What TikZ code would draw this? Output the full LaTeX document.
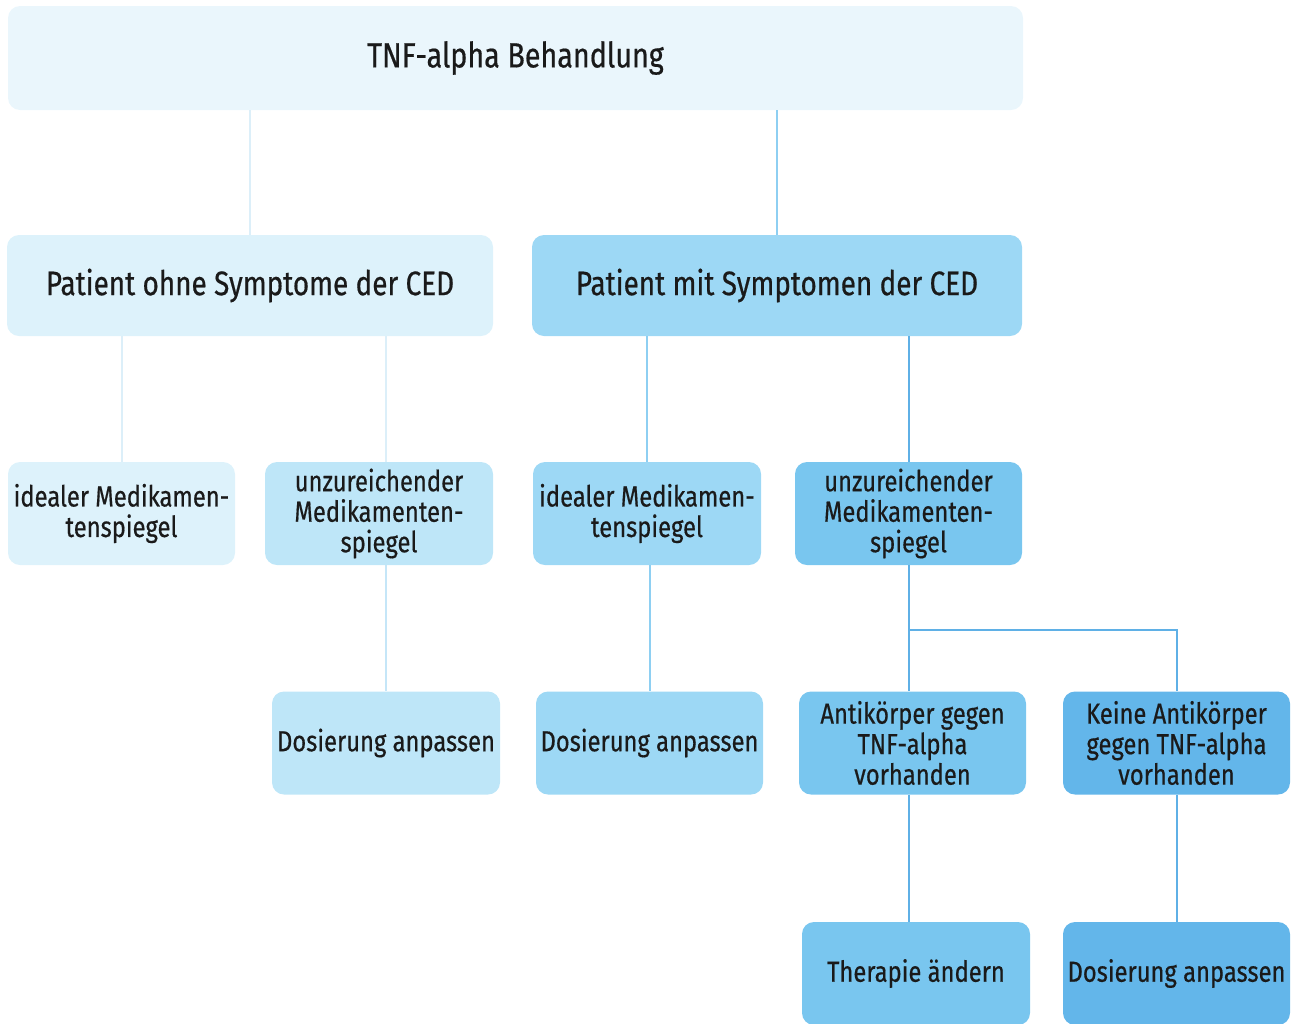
\documentclass[tikz,border=0pt]{standalone}
\usepackage{fontspec}
\setmainfont[FakeStretch=0.82,FakeBold=0.5]{Fira Sans}
\definecolor{c0}{HTML}{EAF6FC}
\definecolor{c1}{HTML}{DDF2FB}
\definecolor{c2}{HTML}{BEE6F8}
\definecolor{c3}{HTML}{9DD8F5}
\definecolor{c4}{HTML}{79C6EF}
\definecolor{c5}{HTML}{63B6EA}
\definecolor{l1}{HTML}{DCEFF9}
\definecolor{l2}{HTML}{8ECFF2}
\definecolor{l3}{HTML}{C5E6F8}
\definecolor{l4}{HTML}{5FB0E6}
\definecolor{txt}{HTML}{1A1A1A}
\begin{document}
\begin{tikzpicture}[x=1pt,y=-1pt,
  box/.style={rounded corners=12pt,draw=none,inner sep=0pt,align=center,text=txt,
    minimum width=228pt,minimum height=103pt,font=\fontsize{29}{30.5}\selectfont},
  head/.style={box,font=\fontsize{34}{36}\selectfont},
  ln/.style={line width=2pt}]
\useasboundingbox (0,0) rectangle (1297,1023);
\clip (0,0) rectangle (1297,1023);
% boxes
\node[head,fill=c0,minimum width=1015pt,minimum height=104pt] (top) at (515.5,58) {\raisebox{5pt}{\fontsize{35}{36}\selectfont TNF-alpha Behandlung}};
\node[head,fill=c1,minimum width=486pt,minimum height=101pt] (ohne) at (250,285.5) {Patient ohne Symptome der CED};
\node[head,fill=c3,minimum width=490pt,minimum height=101pt] (mit) at (777,285.5) {Patient mit Symptomen der CED};
\node[box,fill=c1,minimum width=227pt] (ideal1) at (121.5,513.5) {idealer Medikamen-\\tenspiegel};
\node[box,fill=c2] (unz1) at (379,513.5) {unzureichender\\Medikamenten-\\spiegel};
\node[box,fill=c3] (ideal2) at (647,513.5) {idealer Medikamen-\\tenspiegel};
\node[box,fill=c4,minimum width=227pt] (unz2) at (908.5,513.5) {unzureichender\\Medikamenten-\\spiegel};
\node[box,fill=c2] (dos1) at (386,743) {Dosierung anpassen};
\node[box,fill=c3,minimum width=227pt] (dos2) at (649.5,743) {Dosierung anpassen};
\node[box,fill=c4,minimum width=227pt] (anti) at (912.5,743) {Antikörper gegen\\TNF-alpha\\vorhanden};
\node[box,fill=c5,minimum width=227pt] (keine) at (1176.5,743) {Keine Antikörper\\gegen TNF-alpha\\vorhanden};
\node[box,fill=c4] (ther) at (916,973.5) {Therapie ändern};
\node[box,fill=c5,minimum width=227pt] (dos3) at (1176.5,973.5) {Dosierung anpassen};
% connectors
\draw[ln,l1] (top.south -| ohne.north) -- (ohne.north);
\draw[ln,l2] (top.south -| mit.north) -- (mit.north);
\draw[ln,l1] (ohne.south -| ideal1.north) -- (ideal1.north);
\draw[ln,l1] (ohne.south -| dos1.north) -- (unz1.north -| dos1.north);
\draw[ln,l2] (mit.south -| ideal2.north) -- (ideal2.north);
\draw[ln,l4] (mit.south -| unz2.north) -- (unz2.north);
\draw[ln,l3] (unz1.south -| dos1.north) -- (dos1.north);
\draw[ln,l2] (ideal2.south -| dos2.north) -- (dos2.north);
\draw[ln,l4] (unz2.south) -- (anti.north -| unz2.south);
\draw[ln,l4] (unz2.south |- 0,630) -| (keine.north);
\draw[ln,l4] (anti.south -| unz2.south) -- (ther.north -| unz2.south);
\draw[ln,l4] (keine.south) -- (dos3.north);
\end{tikzpicture}
\end{document}
